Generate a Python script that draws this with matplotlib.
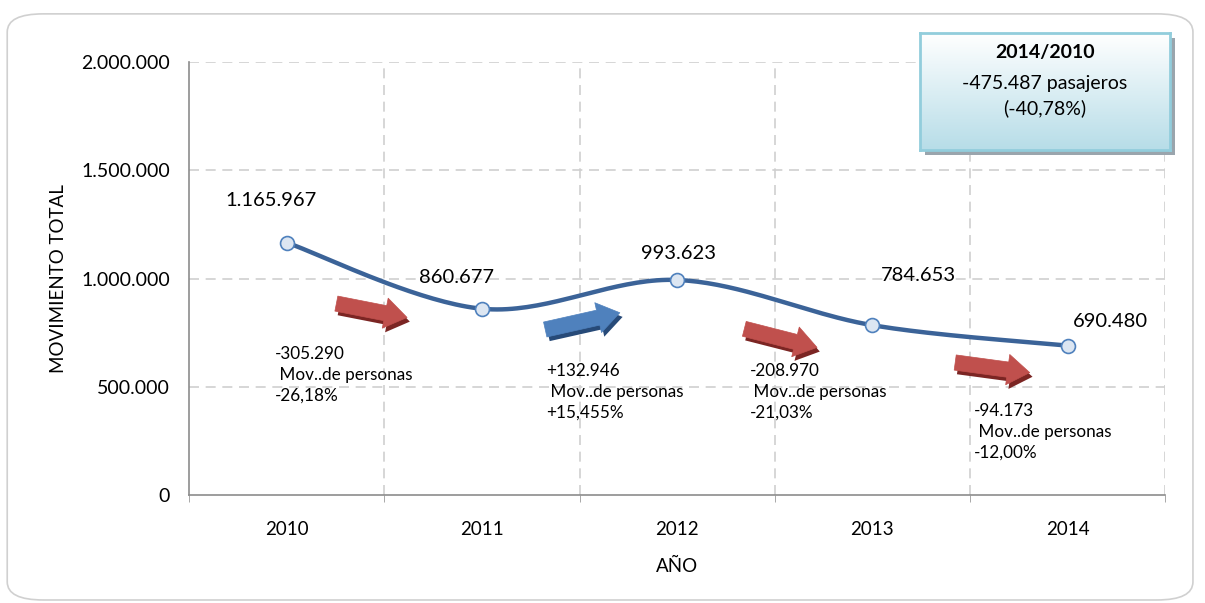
import numpy as np
import matplotlib
matplotlib.use("Agg")
import matplotlib.pyplot as plt
import matplotlib.patheffects as pe
from matplotlib.patches import FancyArrowPatch, FancyBboxPatch, Rectangle
from matplotlib.ticker import FuncFormatter

plt.rcParams['font.family'] = ['Lato', 'DejaVu Sans']

years = ["2010", "2011", "2012", "2013", "2014"]
movimiento = [1165967, 860677, 993623, 784653, 690480]
value_labels = ["1.165.967", "860.677", "993.623", "784.653", "690.480"]
change_labels = [
    "-305.290\n Mov..de personas\n-26,18%",
    "+132.946\n Mov..de personas\n+15,455%",
    "-208.970\n Mov..de personas\n-21,03%",
    "-94.173\n Mov..de personas\n-12,00%",
]
change_up = [False, True, False, False]
box_title = "2014/2010"
box_lines = "-475.487 pasajeros\n(-40,78%)"


def smooth(x, y, n=40):
    # Excel-like smoothed line (Catmull-Rom through the points)
    p = np.column_stack([x, y]).astype(float)
    p = np.vstack([p[0], p, p[-1]])
    out = []
    t = np.linspace(0, 1, n)[:, None]
    for i in range(1, len(p) - 2):
        p0, p1, p2, p3 = p[i - 1], p[i], p[i + 1], p[i + 2]
        c1 = p1 + (p2 - p0) / 6
        c2 = p2 - (p3 - p1) / 6
        seg = ((1 - t) ** 3) * p1 + 3 * ((1 - t) ** 2) * t * c1 + 3 * (1 - t) * t ** 2 * c2 + t ** 3 * p2
        out.append(seg)
    out = np.vstack(out)
    return out[:, 0], out[:, 1]


fig = plt.figure(figsize=(12.05, 6.03), dpi=100)

# rounded chart frame
frame = FancyBboxPatch((0.006, 0.005), 0.984, 0.972, boxstyle="round,pad=0,rounding_size=0.03",
                       transform=fig.transFigure, fc="white", ec="#d0d0d0", lw=1.2, zorder=-5)
fig.patches.append(frame)

ax = fig.add_axes([0.157, 0.179, 0.81, 0.718], zorder=1)
ax.set_facecolor("none")

x = np.arange(len(years))
sx, sy = smooth(x, movimiento)
ax.plot(sx, sy, color="#3b6398", lw=3.2, solid_capstyle="round", zorder=3)
ax.plot(x, movimiento, "o", ms=10, mfc="#dce6f2", mec="#4f81bd", mew=1.2, zorder=4)

label_pos = [(-0.08, 1362000), (0.868, 1007000), (2.005, 1118000), (3.235, 1012000), (4.218, 804000)]
for lab, (lx, ly) in zip(value_labels, label_pos):
    ax.text(lx, ly, lab, ha="center", va="center", fontsize=14.5, zorder=5)

ax.set_xlim(-0.5, 4.5)
ax.set_ylim(0, 2000000)
ax.set_xticks(x)
ax.set_xticklabels(years, fontsize=13.5)
ax.set_yticks([0, 500000, 1000000, 1500000, 2000000])
ax.yaxis.set_major_formatter(FuncFormatter(lambda v, _: f"{int(v):,}".replace(",", ".")))
ax.tick_params(axis="y", labelsize=14, length=0, pad=14)
ax.tick_params(axis="x", length=0, pad=19)
ax.set_xticks(np.arange(-0.5, 5, 1), minor=True)
ax.tick_params(axis="x", which="minor", length=5, color="#9a9a9a")

ax.grid(False)
for gx in np.arange(0.5, 5, 1):
    ax.axvline(gx, color="#cfcfcf", lw=1.2, ls=(0, (6, 4)), zorder=1)
for gy in [500000, 1000000, 1500000, 2000000]:
    ax.axhline(gy, color="#cfcfcf", lw=1.2, ls=(0, (6, 4)), zorder=1)

for s in ["top", "right"]:
    ax.spines[s].set_visible(False)
for s in ["left", "bottom"]:
    ax.spines[s].set_color("#8c8c8c")
    ax.spines[s].set_linewidth(1.2)

ax.set_ylabel("MOVIMIENTO TOTAL", fontsize=13.5, labelpad=10)
ax.set_xlabel("AÑO", fontsize=13.5, labelpad=14)

# change arrows between years
arrow_pos = [((0.24, 887000), (0.63, 818000)),
             ((1.31, 762000), (1.72, 845000)),
             ((2.33, 771000), (2.73, 679000)),
             ((3.41, 614000), (3.82, 564000))]
text_pos = [(-0.06, 690000), (1.33, 610000), (2.37, 610000), (3.52, 425000)]
for (a, b), up, (tx, ty), lab in zip(arrow_pos, change_up, text_pos, change_labels):
    fc = "#4f81bd" if up else "#c0504d"
    sc = "#274a78" if up else "#7b2523"
    arr = FancyArrowPatch(a, b, arrowstyle="simple,head_length=1.6,head_width=2.2,tail_width=1.1",
                          mutation_scale=10, fc=fc, ec=fc, lw=0.5, zorder=4)
    arr.set_path_effects([pe.SimplePatchShadow(offset=(2, -3), shadow_rgbFace=sc, alpha=1.0), pe.Normal()])
    ax.add_patch(arr)
    ax.text(tx, ty, lab, ha="left", va="top", fontsize=12.3, linespacing=1.38, zorder=5)

# summary box (top right)
bx, by, bw, bh = 920 / 1205, 1 - 150 / 603, 250 / 1205, 117 / 603
shadow = Rectangle((bx + 0.004, by - 0.008), bw, bh, transform=fig.transFigure,
                   fc="#9aa5ad", ec="none", zorder=5, hatch="....")
fig.patches.append(shadow)
grad = np.linspace(0, 1, 100)[:, None]
gax = fig.add_axes([bx, by, bw, bh], zorder=6)
gax.imshow(grad, aspect="auto", cmap=matplotlib.colors.LinearSegmentedColormap.from_list(
    "g", ["#ffffff", "#b7dde8"]), extent=[0, 1, 0, 1], origin="upper")
gax.set_xticks([])
gax.set_yticks([])
for s in gax.spines.values():
    s.set_color("#92cddc")
    s.set_linewidth(2)
gax.text(0.5, 0.83, box_title, ha="center", va="center", fontsize=14, fontweight="bold")
gax.text(0.5, 0.46, box_lines, ha="center", va="center", fontsize=14, linespacing=1.45)

fig.savefig("out.png", dpi=100)
